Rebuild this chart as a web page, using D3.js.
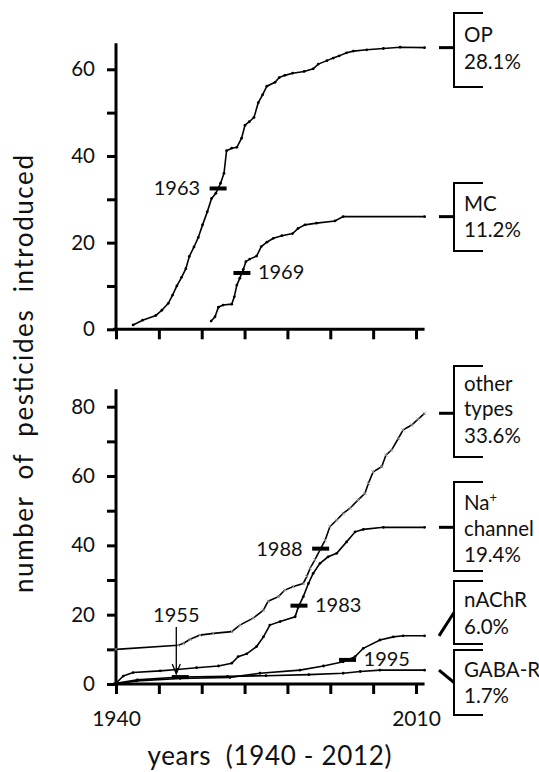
<!DOCTYPE html>
<html>
<head>
<meta charset="utf-8">
<script src="https://cdn.jsdelivr.net/npm/d3@7"></script>
<style>
 body { margin: 0; background: #fff; }
 svg text { font-family: Lato, "Open Sans", sans-serif; fill: #111; }
</style>
</head>
<body>
<div id="chart"></div>
<script>
// cumulative number of pesticides introduced, per mode of action
const opYears = [1944, 1946.2, 1949.3, 1950.7, 1952.2, 1953.2, 1954.2, 1955.3, 1956.3, 1957.1, 1958.2, 1959.2, 1960.2, 1961.3, 1962.3, 1963.3, 1964.4, 1965.2, 1965.8, 1967, 1968.2, 1969.3, 1970.1, 1971.1, 1972.2, 1973.2, 1974.2, 1975.2, 1977.1, 1978.1, 1979.4, 1981.2, 1983.9, 1986, 1987.2, 1989.2, 1990.7, 1992.1, 1993.8, 1995.4, 1998.5, 2002.4, 2006.3, 2012];
const opCounts = [1, 2.1, 3.2, 4.4, 6, 7.9, 10, 12, 14, 16.8, 19, 21.2, 24.1, 27.1, 30.2, 31.4, 33.7, 36, 41.2, 41.8, 42, 44.1, 47.1, 47.9, 48.9, 52.3, 54.1, 56.1, 57, 58.1, 58.6, 59.1, 59.5, 60.1, 61.2, 62, 62.6, 63.1, 63.8, 64.2, 64.5, 64.8, 65.1, 65];

const mcYears = [1962.2, 1963.1, 1963.9, 1965, 1967, 1967.6, 1968.2, 1968.9, 1969.7, 1970.3, 1971.2, 1972.8, 1973.9, 1975.2, 1976.7, 1978.7, 1981.2, 1982.5, 1984.1, 1986.8, 1991.1, 1993, 2012];
const mcCounts = [1.9, 2.9, 5.1, 5.6, 5.8, 7.5, 10.2, 11.8, 13.8, 15.6, 16.2, 16.9, 19.1, 20.1, 21, 21.6, 22.1, 23.3, 24.1, 24.5, 25, 26, 26];

const otherYears = [1940, 1954.5, 1955.7, 1957.3, 1959.6, 1962.7, 1967, 1968.9, 1972, 1974.4, 1975.5, 1977.9, 1979.4, 1981.4, 1983.7, 1984.5, 1985.3, 1986.4, 1987.6, 1988.8, 1989.9, 1991.5, 1993, 1994.6, 1996.5, 1998.1, 1998.9, 2000, 2002, 2003, 2004.3, 2005.9, 2007, 2009, 2010.5, 2012];
const otherCounts = [10, 11.2, 11.7, 12.9, 14.1, 14.6, 15.1, 17, 19, 21.3, 23.9, 25.2, 27.1, 28.1, 29, 31, 33.4, 35.8, 38.7, 41.5, 45.4, 47.3, 49.2, 50.7, 53.1, 55, 57.9, 61.2, 62.7, 66.1, 67.5, 70.9, 73.3, 74.7, 76.4, 78.1];

const naYears = [1940, 1941.7, 1944, 1950.3, 1954.2, 1958.8, 1963.9, 1967, 1968.5, 1970.5, 1972.8, 1974.4, 1975.9, 1978.3, 1981.8, 1982.5, 1983.7, 1984.9, 1986, 1987.6, 1989.5, 1991.5, 1993.8, 1995.8, 1997.7, 2002.4, 2012];
const naCounts = [0.2, 2.3, 3.3, 3.8, 4.2, 4.7, 5.2, 6, 7.9, 8.7, 10.8, 13.6, 17, 18, 19.4, 22.1, 25.2, 29, 31.9, 34.8, 36.7, 37.7, 41, 43.9, 44.6, 45.2, 45.2];

const nachrYears = [1940, 1944.8, 1955, 1966.6, 1973.6, 1982.9, 1988.4, 1993, 1995.8, 1997.7, 2001.6, 2004.7, 2007, 2012];
const nachrCounts = [0, 0.9, 1.6, 1.9, 3.1, 4, 5.2, 6.4, 7.9, 10.3, 12.7, 13.6, 13.9, 13.9];

const gabaYears = [1940, 1945, 1955, 1966, 1975, 1985, 1993, 1997, 2001.6, 2012];
const gabaCounts = [0.2, 1.2, 2, 2.2, 2.4, 2.7, 3.1, 3.6, 4, 4];

const classNames = [["OP"], ["MC"], ["other", "types"], ["Na+", "channel"], ["nAChR"], ["GABA-R"]];
const classShares = ["28.1%", "11.2%", "33.6%", "19.4%", "6.0%", "1.7%"];
const halfYears = [1963, 1969, 1988, 1983, 1995, 1955];

const topTicks = [0, 10, 20, 30, 40, 50, 60];
const bottomTicks = [0, 10, 20, 30, 40, 50, 60, 70, 80];
const yearTicks = [1940, 1950, 1960, 1970, 1980, 1990, 2000, 2010];
const yearLabels = [1940, 2010];

const width = 539, height = 772;

const svg = d3.select("#chart").append("svg")
 .attr("width", width)
 .attr("height", height);

const x = d3.scaleLinear().domain([1940, 2010]).range([116, 416]);
const yTop = d3.scaleLinear().domain([0, 60]).range([329.3, 69.3]);
const yBot = d3.scaleLinear().domain([0, 80]).range([684, 406.7]);

const series = [
 { xs: opYears, ys: opCounts, y: yTop, mark: "dot" },
 { xs: mcYears, ys: mcCounts, y: yTop, mark: "dot" },
 { xs: otherYears, ys: otherCounts, y: yBot, mark: "cross" },
 { xs: naYears, ys: naCounts, y: yBot, mark: "dot" },
 { xs: nachrYears, ys: nachrCounts, y: yBot, mark: "dot" },
 { xs: gabaYears, ys: gabaCounts, y: yBot, mark: "dot" }
];

// axes
function drawAxes(y, ticks, yMax, showYears) {
 const gy = svg.append("g")
  .attr("transform", `translate(${x(1940)},0)`)
  .call(d3.axisLeft(y).tickValues(ticks).tickSize(9).tickSizeOuter(0).tickPadding(12)
   .tickFormat(d => d % 20 === 0 ? d : ""));
 gy.select(".domain").remove();
 gy.selectAll("line").attr("stroke", "#000").attr("stroke-width", 3);
 gy.selectAll("text").style("font-size", "20.5px").attr("fill", "#111");

 const gx = svg.append("g")
  .attr("transform", `translate(0,${y(0)})`)
  .call(d3.axisBottom(x).tickValues(yearTicks).tickSize(10).tickSizeOuter(0).tickPadding(17)
   .tickFormat(d => showYears && yearLabels.includes(d) ? d : ""));
 gx.select(".domain").remove();
 gx.selectAll("line").attr("stroke", "#000").attr("stroke-width", 3);
 gx.selectAll("text").style("font-size", "21px").attr("fill", "#111");

 svg.append("line")
  .attr("x1", x(1940)).attr("x2", x(1940))
  .attr("y1", y(0) + 1.5).attr("y2", y(yMax))
  .attr("stroke", "#000").attr("stroke-width", 3);
 svg.append("line")
  .attr("x1", x(1939.3)).attr("x2", x(2012))
  .attr("y1", y(0)).attr("y2", y(0))
  .attr("stroke", "#000").attr("stroke-width", 3);
}
drawAxes(yTop, topTicks, 66, false);
drawAxes(yBot, bottomTicks, 85, true);

// curves
series.forEach(s => {
 const pts = s.xs.map((d, i) => [d, s.ys[i]]);
 svg.append("path")
  .datum(pts)
  .attr("fill", "none")
  .attr("stroke", "#000")
  .attr("stroke-width", 1.6)
  .attr("d", d3.line().x(d => x(d[0])).y(d => s.y(d[1])));

 if (s.mark === "dot") {
  svg.append("g").selectAll("circle")
   .data(pts).join("circle")
   .attr("cx", d => x(d[0])).attr("cy", d => s.y(d[1]))
   .attr("r", 1.4).attr("fill", "#000");
 } else {
  svg.append("g").selectAll("path")
   .data(pts).join("path")
   .attr("d", d => {
    const cx = x(d[0]), cy = s.y(d[1]);
    return `M${cx - 1.6},${cy - 1.6}L${cx + 1.6},${cy + 1.6}M${cx - 1.6},${cy + 1.6}L${cx + 1.6},${cy - 1.6}`;
   })
   .attr("stroke", "#999").attr("stroke-width", 0.9);
 }
});

// half-way marks
function crossing(xs, ys, v) {
 for (let i = 0; i < ys.length - 1; i++) {
  if (ys[i] <= v && ys[i + 1] >= v) {
   const t = ys[i + 1] === ys[i] ? 0 : (v - ys[i]) / (ys[i + 1] - ys[i]);
   return xs[i] + t * (xs[i + 1] - xs[i]);
  }
 }
 return xs[0];
}

const labelSide = ["left", "right", "left", "right", "right", "arrow"];
halfYears.forEach((yr, i) => {
 const s = series[i];
 const half = s.ys[s.ys.length - 1] / 2;
 const cx = x(crossing(s.xs, s.ys, half));
 const cy = s.y(half);
 svg.append("line")
  .attr("x1", cx - 8.5).attr("x2", cx + 8.5)
  .attr("y1", cy).attr("y2", cy)
  .attr("stroke", "#000").attr("stroke-width", 4);

 const t = svg.append("text").style("font-size", "20px").text(yr);
 if (labelSide[i] === "left") {
  t.attr("x", cx - 18).attr("y", cy + 7).attr("text-anchor", "end");
 } else if (labelSide[i] === "right") {
  t.attr("x", cx + 16).attr("y", cy + 6.5).attr("text-anchor", "start");
 } else {
  const ax = cx - 4;
  t.attr("x", ax).attr("y", cy - 55).attr("text-anchor", "middle");
  svg.append("path")
   .attr("d", `M${ax},${cy - 50}L${ax},${cy - 3}M${ax - 4},${cy - 13}L${ax},${cy - 3}L${ax + 4},${cy - 13}`)
   .attr("fill", "none").attr("stroke", "#000").attr("stroke-width", 1.3);
 }
});

// brackets on the right
const brackets = [
 { top: 13, bottom: 87, lines: [41.7, 69.3] },
 { top: 183, bottom: 251, lines: [210.7, 237.3] },
 { top: 366, bottom: 457, lines: [390.7, 416, 443] },
 { top: 482, bottom: 571, lines: [510, 536, 562] },
 { top: 581, bottom: 644, lines: [606.7, 634], slant: true },
 { top: 650, bottom: 715, lines: [676.7, 703.3], slant: true }
];
const bx = 454, bw = 29;

brackets.forEach((b, i) => {
 const s = series[i];
 const endY = s.y(s.ys[s.ys.length - 1]);
 svg.append("path")
  .attr("d", `M${bx + bw},${b.top}H${bx}V${b.bottom}H${bx + bw}`)
  .attr("fill", "none").attr("stroke", "#000").attr("stroke-width", 2);
 svg.append("line")
  .attr("x1", 439).attr("y1", endY)
  .attr("x2", bx).attr("y2", b.slant ? (b.top + b.bottom) / 2 : endY)
  .attr("stroke", "#000").attr("stroke-width", 3);
 const rows = classNames[i].concat([classShares[i]]);
 rows.forEach((r, j) => {
  const t = svg.append("text")
   .attr("x", 464).attr("y", b.lines[j])
   .style("font-size", "20.5px");
  if (r === "Na+") {
   t.append("tspan").text("Na");
   t.append("tspan").attr("dy", -8).style("font-size", "13px").text("+");
  } else {
   t.text(r);
  }
 });
});

// axis titles
svg.append("text")
 .attr("transform", "translate(33,374) rotate(-90)")
 .attr("text-anchor", "middle")
 .attr("textLength", 438)
 .attr("lengthAdjust", "spacing")
 .style("font-size", "26px")
 .style("white-space", "pre")
 .text("number  of  pesticides  introduced");

svg.append("text")
 .attr("x", 269.5).attr("y", 765)
 .attr("text-anchor", "middle")
 .attr("textLength", 244)
 .attr("lengthAdjust", "spacing")
 .style("font-size", "26px")
 .style("white-space", "pre")
 .text("years  (1940 - 2012)");
</script>
</body>
</html>
